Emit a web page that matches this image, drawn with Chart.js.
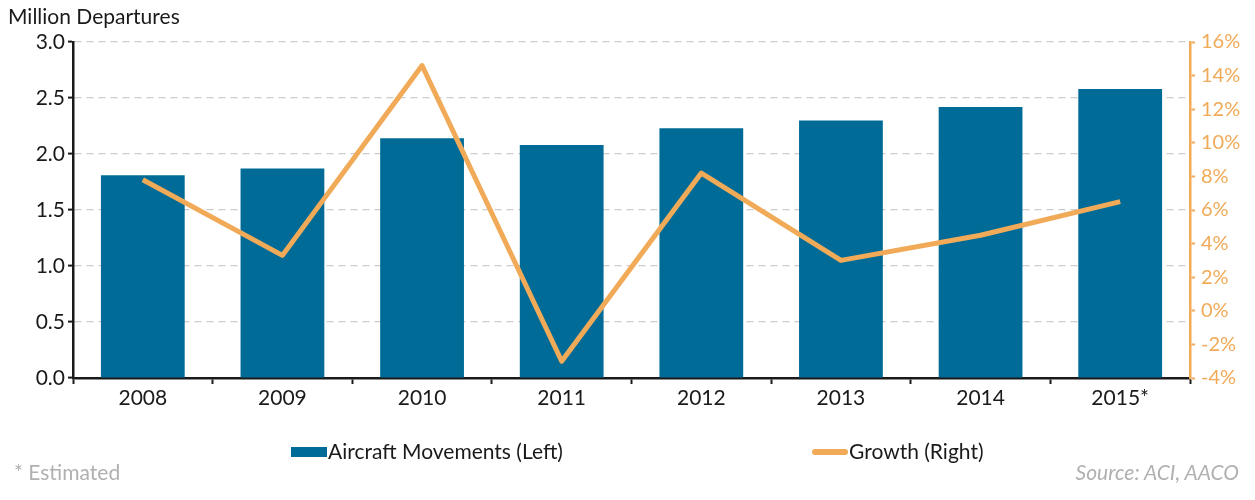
<!DOCTYPE html>
<html><head><meta charset="utf-8">
<script src="https://cdn.jsdelivr.net/npm/chart.js@4"></script>
<style>
html,body{margin:0;padding:0;background:#fff;}
#wrap{position:relative;width:1255px;height:500px;font-family:Lato,"Noto Sans",sans-serif;}
canvas{position:absolute;left:0;top:0;}
.t{position:absolute;white-space:nowrap;}
</style></head><body>
<div id="wrap">
<canvas id="c" width="1255" height="500"></canvas>
<div class="t" style="left:8px;top:3px;font-size:21px;color:#1a1a1a;">Million Departures</div>
<div class="t" style="left:291px;top:438px;font-size:21px;color:#1a1a1a;"><span style="display:inline-block;width:36px;height:10px;background:#006B96;vertical-align:middle;margin-right:1px;position:relative;top:-2px;"></span>Aircraft Movements (Left)</div>
<div class="t" style="left:812px;top:438px;font-size:21px;color:#1a1a1a;"><span style="display:inline-block;width:36px;height:6px;border-radius:3px;background:#F0AA58;vertical-align:middle;margin-right:1px;position:relative;top:-2px;"></span>Growth (Right)</div>
<div class="t" style="left:14px;top:459px;font-size:21px;color:#b0b0b0;">* Estimated</div>
<div class="t" style="right:16px;top:459px;font-size:21px;color:#b0b0b0;font-style:italic;">Source: ACI, AACO</div>
</div>
<script>
const categories = ["2008","2009","2010","2011","2012","2013","2014","2015*"];
const movements = [1.81, 1.87, 2.14, 2.08, 2.23, 2.30, 2.42, 2.58];
const growth = [7.8, 3.3, 14.6, -3.0, 8.2, 3.0, 4.5, 6.5];
const leftTicks = [0, 0.5, 1.0, 1.5, 2.0, 2.5, 3.0];
const rightTicks = [-4, -2, 0, 2, 4, 6, 8, 10, 12, 14, 16];

const BLUE = "#006B96", ORANGE = "#F0AA58";
const FONT = {family: "Lato, 'Noto Sans', sans-serif", size: 21};
const FONT_R = {family: "Lato, 'Noto Sans', sans-serif", size: 20};

new Chart(document.getElementById("c"), {
  data: {
    labels: categories,
    datasets: [
      {type: "line", label: "Growth (Right)", data: growth, yAxisID: "y2",
       borderColor: ORANGE, borderWidth: 5, pointRadius: 0, tension: 0,
       borderJoinStyle: "round", order: 0},
      {type: "bar", label: "Aircraft Movements (Left)", data: movements, yAxisID: "y",
       backgroundColor: BLUE, categoryPercentage: 1, barPercentage: 0.6, order: 1}
    ]
  },
  options: {
    responsive: false, animation: false,
    layout: {padding: {top: 42, left: 0, right: 0, bottom: 0}},
    plugins: {legend: {display: false}, tooltip: {enabled: false}},
    scales: {
      x: {
        offset: true,
        grid: {offset: true, drawOnChartArea: false, tickLength: 6, tickColor: "#1a1a1a", tickWidth: 2},
        border: {color: "#1a1a1a", width: 2.5},
        ticks: {color: "#1a1a1a", font: FONT, padding: 2},
        afterFit(s){ s.height = 122; }
      },
      y: {
        position: "left", min: 0, max: 3,
        afterBuildTicks(s){ s.ticks = leftTicks.map(v => ({value: v})); },
        grid: {color: "#cccccc", lineWidth: 1.2, tickColor: "#1a1a1a", tickLength: 5, tickWidth: 2,
               drawTicks: true},
        border: {color: "#1a1a1a", width: 2.5, dash: [7, 5]},
        ticks: {color: "#1a1a1a", font: FONT, padding: 3, callback: v => Number(v).toFixed(1)},
        afterFit(s){ s.width = 73; }
      },
      y2: {
        position: "right", min: -4, max: 16,
        afterBuildTicks(s){ s.ticks = rightTicks.map(v => ({value: v})); },
        grid: {drawOnChartArea: false, tickColor: ORANGE, tickLength: 5, tickWidth: 2},
        border: {color: ORANGE, width: 2.5},
        ticks: {color: ORANGE, font: FONT_R, padding: 6, callback: v => v + "%"},
        afterFit(s){ s.width = 65; }
      }
    }
  }
});
</script>
</body></html>
